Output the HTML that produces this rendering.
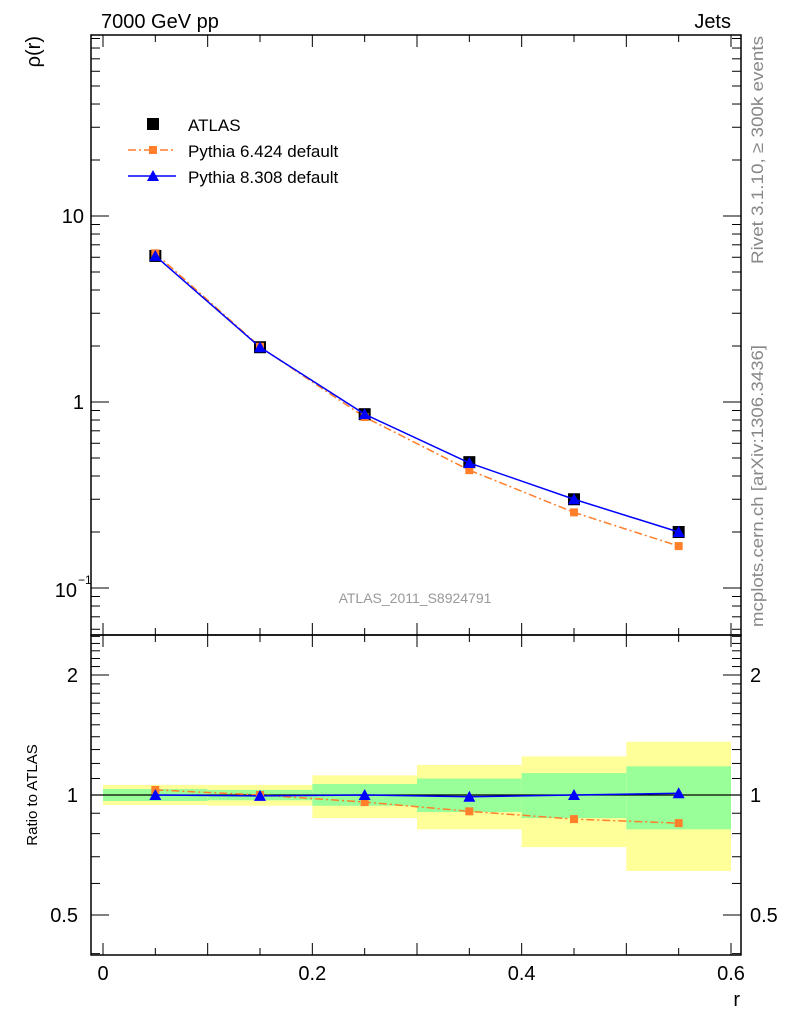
<!DOCTYPE html>
<html><head><meta charset="utf-8"><style>
body{margin:0;background:#fff;}
svg{display:block;font-family:"Liberation Sans",sans-serif;}
</style></head><body>
<svg id="c" width="786" height="1024" viewBox="0 0 786 1024"></svg>
<script>
const categories=[0.05,0.15,0.25,0.35,0.45,0.55];
const binEdges=[0,0.1,0.2,0.3,0.4,0.5,0.6];
const atlasValues=[6.1,1.97,0.86,0.475,0.30,0.20];
const py6Values=[6.3,1.98,0.83,0.43,0.255,0.168];
const py8Values=[6.1,1.97,0.86,0.47,0.30,0.20];
const py6Ratio=[1.03,1.0,0.96,0.91,0.87,0.85];
const py8Ratio=[1.0,0.995,1.0,0.99,1.0,1.01];
const yellowHi=[1.06,1.06,1.12,1.19,1.25,1.36];
const yellowLo=[0.944,0.94,0.875,0.82,0.74,0.645];
const greenHi=[1.035,1.03,1.066,1.1,1.135,1.18];
const greenLo=[0.966,0.97,0.94,0.906,0.875,0.82];
const xTickLabels=["0","0.2","0.4","0.6"];
const xTickVals=[0,0.2,0.4,0.6];

const NS="http://www.w3.org/2000/svg";
const svg=document.getElementById('c');
const L=91,R=741,T=35,M=635,B=955;
function X(v){return 103+v*(731-103)/0.6;}
function Y(v){return 402-186*Math.log10(v);}
function YR(v){return 795-120*Math.log2(v);}
function el(tag,attrs,name,parent){const e=document.createElementNS(NS,tag);for(const k in attrs)e.setAttribute(k,attrs[k]);


(parent||svg).appendChild(e);return e;}
function txt(s,attrs,name){const e=el('text',attrs,name);e.textContent=s;return e;}

for(let i=0;i<6;i++){
 el('rect',{x:X(binEdges[i]),y:YR(yellowHi[i]),width:X(binEdges[i+1])-X(binEdges[i]),height:YR(yellowLo[i])-YR(yellowHi[i]),fill:'#ffff99'},'total-uncertainty-band');
 el('rect',{x:X(binEdges[i]),y:YR(greenHi[i]),width:X(binEdges[i+1])-X(binEdges[i]),height:YR(greenLo[i])-YR(greenHi[i]),fill:'#99ff99'},'stat-uncertainty-band');
}
el('line',{x1:L,x2:R,y1:YR(1),y2:YR(1),stroke:'#000','stroke-width':1.3},'ratio-unity-line');

el('rect',{x:L,y:T,width:R-L,height:M-T,fill:'none',stroke:'#000','stroke-width':1.5},'main-frame');
el('rect',{x:L,y:M,width:R-L,height:B-M,fill:'none',stroke:'#000','stroke-width':1.5},'ratio-frame');

for(let k=0;k<=12;k++){const v=k*0.05,x=X(v),len=k%2==0?12:7;
 for(const [y0,d] of [[T,1],[M,-1],[M,1],[B,-1]]) el('line',{x1:x,x2:x,y1:y0,y2:y0+d*len,stroke:'#000'},'x-tick');}
xTickVals.forEach((v,i)=>txt(xTickLabels[i],{x:X(v),y:980,'font-size':20,'text-anchor':'middle'},'x-tick-label'));
txt('r',{x:740,y:1006,'font-size':20,'text-anchor':'end'},'x-axis-title');

for(let d=-2;d<=2;d++)for(let m=1;m<=9;m++){const v=m*Math.pow(10,d),y=Y(v);if(y<T||y>M)continue;const len=m==1?18:9;
 el('line',{x1:L,x2:L+len,y1:y,y2:y,stroke:'#000'},'y-tick');el('line',{x1:R,x2:R-len,y1:y,y2:y,stroke:'#000'},'y-tick');}
txt('10',{x:84,y:223,'font-size':20,'text-anchor':'end'},'y-tick-label');
txt('1',{x:84,y:409,'font-size':20,'text-anchor':'end'},'y-tick-label');
txt('10',{x:77,y:597,'font-size':20,'text-anchor':'end'},'y-tick-label');
txt('−1',{x:78,y:584,'font-size':12},'y-tick-exponent');
txt('ρ(r)',{x:0,y:0,'font-size':20,'text-anchor':'end',transform:'translate(40,36) rotate(-90)'},'y-axis-title');

[0.4,0.5,0.6,0.7,0.8,0.9,1,1.1,1.2,1.3,1.4,1.5,1.6,1.7,1.8,1.9,2,2.1,2.2,2.3,2.4,2.5].forEach(v=>{const y=YR(v);if(y<M||y>B)return;const len=(v==0.5||v==1||v==2)?18:9;
 el('line',{x1:L,x2:L+len,y1:y,y2:y,stroke:'#000'},'ratio-tick');el('line',{x1:R,x2:R-len,y1:y,y2:y,stroke:'#000'},'ratio-tick');});
[[2,'2'],[1,'1'],[0.5,'0.5']].forEach(([v,s])=>{txt(s,{x:78,y:YR(v)+7,'font-size':20,'text-anchor':'end'},'ratio-tick-label');txt(s,{x:750,y:YR(v)+7,'font-size':20},'ratio-tick-label-right');});
txt('Ratio to ATLAS',{x:0,y:0,'font-size':15,'text-anchor':'middle',transform:'translate(37,795) rotate(-90)'},'ratio-axis-title');

function line(vals,fy,color,dash,name){el('polyline',{points:categories.map((c,i)=>X(c)+','+fy(vals[i])).join(' '),fill:'none',stroke:color,'stroke-width':1.5,'stroke-dasharray':dash||'none'},name);}
function sq(x,y,s,color,name){el('rect',{x:x-s/2,y:y-s/2,width:s,height:s,fill:color},name);}
function tri(x,y,color,name){el('polygon',{points:`${x},${y-6} ${x-6},${y+5} ${x+6},${y+5}`,fill:color},name);}
line(py6Values,Y,'#ff7f2a','8,3,2,3','pythia6-line');
categories.forEach((c,i)=>sq(X(c),Y(atlasValues[i]),12,'#000','atlas-point'));
line(py8Values,Y,'#0000ff','','pythia8-line');
categories.forEach((c,i)=>sq(X(c),Y(py6Values[i]),8,'#ff7f2a','pythia6-point'));
categories.forEach((c,i)=>tri(X(c),Y(py8Values[i]),'#0000ff','pythia8-point'));
line(py6Ratio,YR,'#ff7f2a','8,3,2,3','pythia6-ratio-line');
line(py8Ratio,YR,'#0000ff','','pythia8-ratio-line');
categories.forEach((c,i)=>sq(X(c),YR(py6Ratio[i]),8,'#ff7f2a','pythia6-ratio-point'));
categories.forEach((c,i)=>tri(X(c),YR(py8Ratio[i]),'#0000ff','pythia8-ratio-point'));

sq(153,124,12,'#000','legend-atlas-marker');
txt('ATLAS',{x:188,y:131,'font-size':17},'legend-atlas');
el('line',{x1:128,x2:176,y1:150,y2:150,stroke:'#ff7f2a','stroke-width':1.5,'stroke-dasharray':'8,3,2,3'},'legend-pythia6-line');
sq(153,150,8,'#ff7f2a','legend-pythia6-marker');
txt('Pythia 6.424 default',{x:188,y:157,'font-size':17},'legend-pythia6');
el('line',{x1:128,x2:176,y1:176,y2:176,stroke:'#0000ff','stroke-width':1.5},'legend-pythia8-line');
tri(153,176,'#0000ff','legend-pythia8-marker');
txt('Pythia 8.308 default',{x:188,y:183,'font-size':17},'legend-pythia8');

txt('7000 GeV pp',{x:101,y:28,'font-size':20},'plot-title');
txt('Jets',{x:731,y:28,'font-size':20,'text-anchor':'end'},'plot-category');
txt('ATLAS_2011_S8924791',{x:415,y:603,'font-size':14,fill:'#999','text-anchor':'middle'},'analysis-label');
txt('Rivet 3.1.10, ≥ 300k events',{x:0,y:0,'font-size':17,fill:'#888','text-anchor':'middle',textLength:228,lengthAdjust:'spacingAndGlyphs',transform:'translate(763,150) rotate(-90)'},'rivet-label');
txt('mcplots.cern.ch [arXiv:1306.3436]',{x:0,y:0,'font-size':17,fill:'#888','text-anchor':'middle',textLength:282,lengthAdjust:'spacingAndGlyphs',transform:'translate(763,486) rotate(-90)'},'mcplots-label');
</script>
</body></html>
